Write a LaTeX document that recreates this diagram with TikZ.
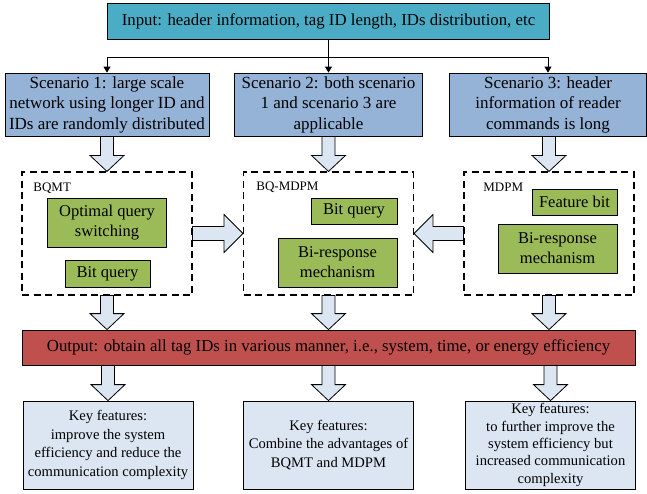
\documentclass[tikz,border=0pt]{standalone}
\usepackage{fontspec}
\setmainfont{Liberation Serif}
\usepackage{xcolor}
\usetikzlibrary{arrows.meta}
\usetikzlibrary{calc}

\definecolor{inputblue}{RGB}{75,172,198}
\definecolor{scenblue}{RGB}{149,179,215}
\definecolor{algogreen}{RGB}{155,187,89}
\definecolor{outred}{RGB}{192,80,77}
\definecolor{paleblue}{RGB}{220,230,242}

% hollow block arrows between boxes
\newcommand{\bigdown}[2]{%
  \path[blockarrow] let \p1=#1, \p2=#2 in
    (\x2-6.5pt,\y1) -- (\x2+6.5pt,\y1) -- (\x2+6.5pt,\y2+16pt) -- (\x2+17pt,\y2+16pt)
    -- (\x2,\y2) -- (\x2-17pt,\y2+16pt) -- (\x2-6.5pt,\y2+16pt) -- cycle;}
\newcommand{\bigside}[3]{%
  \path[blockarrow] let \p1=#1, \p2=#2 in
    (\x1,\y1+7pt) -- ({\x2-(#3pt)},\y1+7pt) -- ({\x2-(#3pt)},\y1+19pt) -- (\x2,\y1)
    -- ({\x2-(#3pt)},\y1-19pt) -- ({\x2-(#3pt)},\y1-7pt) -- (\x1,\y1-7pt) -- cycle;}

\begin{document}
\begin{tikzpicture}[thick,x=1pt,y=-1pt]

			\tikzstyle{inbox} = [draw,fill=inputblue,minimum width=442pt,minimum height=36pt,inner sep=0pt,font=\fontsize{16.8}{20}\selectfont]
			\tikzstyle{scenario} = [draw,fill=scenblue,minimum height=63pt,inner sep=0pt,align=center,font=\fontsize{17}{20.5}\selectfont]
			\tikzstyle{method} = [draw,line width=1.1pt,dash pattern=on 7pt off 4.5pt,minimum width=170pt,minimum height=123pt,inner sep=0pt]
			\tikzstyle{block} = [draw,fill=algogreen,inner sep=0pt,align=center,font=\fontsize{16.5}{20}\selectfont]
			\tikzstyle{outbox} = [draw,fill=outred,minimum width=613pt,minimum height=35pt,inner sep=0pt,font=\fontsize{16.8}{20}\selectfont]
			\tikzstyle{keybox} = [draw,fill=paleblue,minimum width=170pt,minimum height=88pt,inner sep=0pt,align=center,font=\fontsize{14.6}{18.5}\selectfont]
			\tikzstyle{tag} = [anchor=base west,inner sep=0pt,font=\fontsize{13}{15}\selectfont]
			\tikzstyle{blockarrow} = [draw,fill=paleblue]
			\tikzstyle{feed} = [-{Triangle[width=7pt,length=6pt]}]

			\useasboundingbox (0,0) rectangle (647,493);

			% input and scenarios
			\node[inbox] (in) at (328.5,21) {Input: header information, tag ID length, IDs distribution, etc};
			\node[scenario,minimum width=204pt] (s1) at (107,104.5) {Scenario 1: large scale\\network using longer ID and\\IDs are randomly distributed};
			\node[scenario,minimum width=188pt] (s2) at (328.5,104.5) {Scenario 2: both scenario\\1 and scenario 3 are\\applicable};
			\node[scenario,minimum width=197pt] (s3) at (548,104.5) {Scenario 3: header\\information of reader\\commands is long};

			\coordinate (hub) at (328.5,57);
			\draw (in.south) -- (hub);
			\draw[feed] (hub) -| (s1.north);
			\draw[feed] (hub) -| (s3.north);
			\draw[feed] (hub) -- (s2.north);

			% the three schemes
			\node[method] (d1) at (107,233.5) {};
			\node[method] (d2) at (328.5,233.5) {};
			\node[method] (d3) at (549,233.5) {};
			\node[tag] (t1) at (33,191) {BQMT};
			\node[tag] (t2) at (256,190) {BQ-MDPM};
			\node[tag] (t3) at (483,191) {MDPM};

			\node[block,minimum width=119pt,minimum height=49pt] (oq1) at (107,222.5) {Optimal query\\switching};
			\node[block,minimum width=85pt,minimum height=27pt] (bq1) at (107.5,273.5) {Bit query};
			\node[block,minimum width=86pt,minimum height=26pt] (bq2) at (354,211) {Bit query};
			\node[block,minimum width=119pt,minimum height=49pt] (br2) at (337.5,262.5) {Bi-response\\mechanism};
			\node[block,minimum width=85pt,minimum height=26pt] (fb3) at (574.5,202) {Feature bit};
			\node[block,minimum width=119pt,minimum height=49pt] (br3) at (557.5,248.5) {Bi-response\\mechanism};

			% output and key features
			\node[outbox] (out) at (328.5,347.5) {Output: obtain all tag IDs in various manner, i.e., system, time, or energy efficiency};
			\node[keybox] (k1) at (108,445) {Key features:\\improve the system\\efficiency and reduce the\\communication complexity};
			\node[keybox] (k2) at (328.5,445) {Key features:\\Combine the advantages of\\BQMT and MDPM};
			\node[keybox,font=\fontsize{14.6}{17.3}\selectfont] (k3) at (550.5,445) {Key features:\\to further improve the\\system efficiency but\\increased communication\\complexity};

			\bigdown{(d1.north |- s1.south)}{(d1.north)}
			\bigdown{(d2.north |- s2.south)}{(d2.north)}
			\bigdown{(d3.north |- s3.south)}{(d3.north)}
			\bigside{(d1.east)}{(d2.west)}{19}
			\bigside{(d3.west)}{(d2.east)}{-19}
			\bigdown{(d1.south)}{(d1.south |- out.north)}
			\bigdown{(d2.south)}{(d2.south |- out.north)}
			\bigdown{(d3.south)}{(d3.south |- out.north)}
			\bigdown{(k1.north |- out.south)}{(k1.north)}
			\bigdown{(k2.north |- out.south)}{(k2.north)}
			\bigdown{(k3.north |- out.south)}{(k3.north)}
		\end{tikzpicture}
\end{document}
